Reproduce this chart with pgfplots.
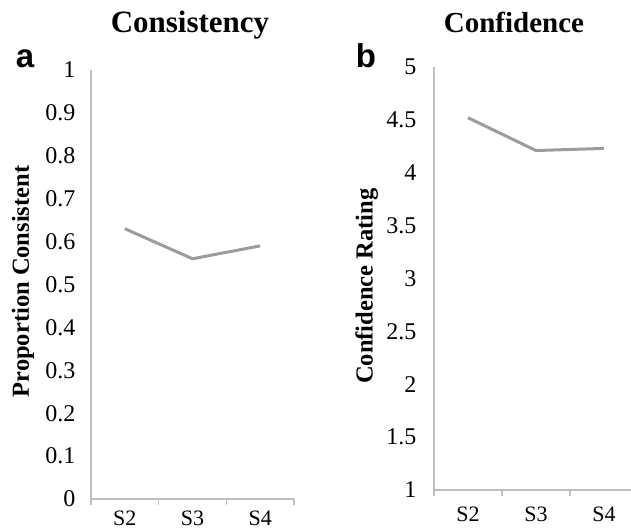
\documentclass[border=0pt]{standalone}
\usepackage{fontspec}
\setmainfont{Liberation Serif}
\newfontfamily\sansfam{Liberation Sans}
\usepackage{pgfplots}
\pgfplotsset{compat=1.18}
\definecolor{axgray}{HTML}{BFBFBF}
\definecolor{linegray}{HTML}{9C9C9C}

\begin{document}
\begin{tikzpicture}[x=1pt,y=1pt]
\useasboundingbox (0,0) rectangle (631,529);
\pgfplotsset{
  panel/.style={
    scale only axis,
    anchor=south west,
    axis lines=left,
    axis line style={draw=axgray, line width=1.5pt, -},
    xmin=0, xmax=3,
    xtick={0.5,1.5,2.5},
    xticklabels={S2,S3,S4},
    minor xtick={0,1,2,3},
    major tick length=0pt,
    minor tick length=6pt,
    tick align=outside,
    minor tick style={draw=axgray, line width=1.5pt},
    ytick style={draw=none},
    /pgf/number format/assume math mode=true,
    clip=false,
  }
}
\begin{axis}[panel, at={(91pt,30pt)}, width=203pt, height=429pt,
  ymin=0, ymax=1,
  ytick={0,0.1,0.2,0.3,0.4,0.5,0.6,0.7,0.8,0.9,1},
  x tick label style={font=\fontsize{22}{25}\selectfont, yshift=-8pt},
  y tick label style={font=\fontsize{24}{28}\selectfont, xshift=-12pt},
  ylabel={Proportion Consistent},
  every axis y label/.style={at={(axis description cs:-0.335,0.507)}, rotate=90, anchor=center, font=\fontsize{24.5}{28}\selectfont\bfseries},
]
\addplot[linegray, line width=3pt, line join=miter] coordinates {(0.5,0.63) (1.5,0.56) (2.5,0.59)};
\end{axis}

\begin{axis}[panel, at={(434pt,39pt)}, width=204pt, height=423pt,
  ymin=1, ymax=5,
  ytick={1,1.5,2,2.5,3,3.5,4,4.5,5},
  x tick label style={font=\fontsize{22}{25}\selectfont, yshift=-13pt},
  y tick label style={font=\fontsize{24}{28}\selectfont, xshift=-14pt},
  ylabel={Confidence Rating},
  every axis y label/.style={at={(axis description cs:-0.33,0.482)}, rotate=90, anchor=center, font=\fontsize{24.5}{28}\selectfont\bfseries},
]
\addplot[linegray, line width=3pt, line join=miter] coordinates {(0.5,4.52) (1.5,4.21) (2.5,4.23)};
\end{axis}

\node[anchor=base, font=\fontsize{31}{35}\selectfont\bfseries] at (190,496) {Consistency};
\node[anchor=base, font=\fontsize{29}{33}\selectfont\bfseries] at (514,496) {Confidence};
\node[anchor=base, font=\fontsize{33}{36}\selectfont\sansfam\bfseries] at (25,461) {a};
\node[anchor=base, font=\fontsize{33}{36}\selectfont\sansfam\bfseries] at (366,461) {b};
\end{tikzpicture}
\end{document}
